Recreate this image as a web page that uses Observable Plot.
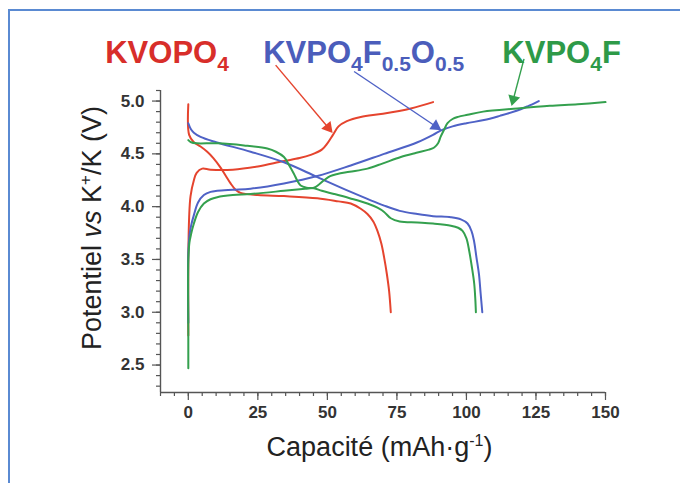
<!DOCTYPE html>
<html>
<head>
<meta charset="utf-8">
<script src="https://cdn.jsdelivr.net/npm/d3@7"></script>
<script src="https://cdn.jsdelivr.net/npm/@observablehq/plot@0.6"></script>
<style>
  body { margin: 0; background: #ffffff; }
  #wrap { position: relative; width: 680px; height: 483px; overflow: hidden; font-family: "Liberation Sans", Arial, sans-serif; }
  #wrap svg { position: absolute; left: 0; top: 0; }
  #frame { position: absolute; left: 8px; top: 9px; width: 700px; height: 500px; border-top: 2px solid #5a8ad2; border-left: 2px solid #5a8ad2; pointer-events: none; }
</style>
</head>
<body>
<div id="wrap"><div id="frame"></div></div>
<script>
// ---- Data (capacity in mAh/g, potential in V vs K+/K) ----
const materials = ["KVOPO4", "KVPO4F0.5O0.5", "KVPO4F"];
const curveColors = ["#e5442e", "#4f62c6", "#34a04e"];
const labelColors = ["#d82e2a", "#4b5dbb", "#2e9a48"];

// KVOPO4
const redChargeCap = [0, 0, 0.3, 0.8, 2, 3, 5, 8, 16, 25, 34, 40, 44, 48, 50, 52, 54, 57, 62, 70, 80, 88];
const redChargeV   = [2.78, 3.5, 3.9, 4.1, 4.25, 4.32, 4.36, 4.35, 4.35, 4.38, 4.43, 4.46, 4.49, 4.54, 4.60, 4.68, 4.76, 4.81, 4.85, 4.88, 4.93, 4.99];
const redDischCap  = [0, 0.3, 2, 4.4, 6.8, 9, 11.6, 13.5, 15.2, 17, 18.8, 25, 34.4, 46.4, 54, 58.4, 62, 64.4, 66.5, 68, 69.4, 70.4, 71.4, 72.2, 72.8];
const redDischV    = [4.97, 4.68, 4.61, 4.57, 4.52, 4.46, 4.37, 4.29, 4.22, 4.16, 4.13, 4.11, 4.10, 4.08, 4.05, 4.03, 3.98, 3.93, 3.86, 3.77, 3.65, 3.52, 3.36, 3.2, 3.0];

// KVPO4F0.5O0.5
const blueChargeCap = [0, 0, 0.4, 1, 2, 3.5, 5.6, 8, 10.4, 16, 22.4, 34.4, 46.4, 58.4, 70.4, 82.4, 88, 90.7, 95, 100, 106.3, 112, 118.3, 122, 126];
const blueChargeV   = [2.9, 3.55, 3.72, 3.82, 3.92, 4.04, 4.11, 4.14, 4.15, 4.16, 4.17, 4.22, 4.29, 4.39, 4.50, 4.61, 4.68, 4.72, 4.76, 4.79, 4.82, 4.86, 4.91, 4.95, 5.0];
const blueDischCap  = [0, 1, 2, 4.4, 10, 22.4, 34.4, 46.4, 58.4, 70.4, 76, 82.4, 88, 94.4, 98, 100.4, 101.8, 102.7, 103.6, 104.5, 105.1, 105.7];
const blueDischV    = [4.79, 4.73, 4.70, 4.66, 4.61, 4.52, 4.42, 4.28, 4.14, 4.01, 3.96, 3.93, 3.91, 3.90, 3.88, 3.84, 3.77, 3.68, 3.52, 3.36, 3.18, 3.0];

// KVPO4F
const greenChargeCap = [0, 0, 0, 0.4, 1, 2, 3.5, 5.6, 8, 10.4, 16, 22.4, 34.4, 42, 45.2, 47, 48.8, 51, 53.6, 58, 64.4, 70, 76.4, 82, 86.5, 88.4, 89.8, 90.7, 92, 93.2, 95, 97, 100.4, 106, 118.3, 130, 140, 150];
const greenChargeV   = [2.47, 2.75, 3.5, 3.66, 3.74, 3.84, 3.95, 4.03, 4.07, 4.09, 4.11, 4.12, 4.15, 4.17, 4.18, 4.21, 4.25, 4.29, 4.31, 4.33, 4.36, 4.41, 4.47, 4.51, 4.54, 4.56, 4.60, 4.66, 4.73, 4.79, 4.83, 4.85, 4.87, 4.90, 4.93, 4.955, 4.97, 4.99];
const greenDischCap  = [0, 1, 3, 10.4, 20, 28.4, 31.5, 34.4, 36.3, 38, 39.3, 40.4, 42.5, 45.2, 48, 52.4, 58, 64.4, 68, 70.4, 72.8, 76, 82.4, 88, 94.4, 97, 98.6, 100, 101, 102, 102.8, 103.2, 103.4];
const greenDischV    = [4.63, 4.61, 4.60, 4.60, 4.58, 4.55, 4.52, 4.47, 4.39, 4.31, 4.24, 4.20, 4.18, 4.175, 4.15, 4.12, 4.08, 4.03, 3.99, 3.95, 3.89, 3.86, 3.85, 3.84, 3.82, 3.80, 3.77, 3.70, 3.58, 3.42, 3.27, 3.12, 3.0];

// Annotation arrows (data coordinates)
const arrowMaterial = ["KVOPO4", "KVPO4F0.5O0.5", "KVPO4F"];
const arrowCap1 = [31.4, 59.6, 120.7];
const arrowV1   = [5.34, 5.28, 5.40];
const arrowCap2 = [51.2, 90.1, 116.5];
const arrowV2   = [4.72, 4.74, 4.98];

// Label anchors (left baseline, data coordinates) and text parts [text, isSubscript]
const labelCap = [-29.7, 27.1, 113.1];
const labelV = [5.36, 5.36, 5.36];
const labelParts = [
  [["KVOPO", false], ["4", true]],
  [["KVPO", false], ["4", true], ["F", false], ["0.5", true], ["O", false], ["0.5", true]],
  [["KVPO", false], ["4", true], ["F", false]]
];

// Ticks
const xMajorTicks = [0, 25, 50, 75, 100, 125, 150];
const xMinorTicks = d3.range(-10, 151, 5);
const yMajorTicks = [2.5, 3.0, 3.5, 4.0, 4.5, 5.0];
const yMinorTicks = d3.range(23, 52).map(d => d / 10);

// ---- Layout ----
const W = 680, H = 483, mL = 160, mR = 75, mT = 90, mB = 91;
const xDomain = [-10, 150], yDomain = [2.24, 5.1];
const pxPerCap = (W - mL - mR) / (xDomain[1] - xDomain[0]);
const pxPerV = (H - mT - mB) / (yDomain[1] - yDomain[0]);

// ---- Build tables ----
function series(material, part, caps, vs) {
  return caps.map((c, i) => ({cap: c, v: vs[i], material, series: material + "-" + part}));
}
const curves = [
  ...series("KVOPO4", "charge", redChargeCap, redChargeV),
  ...series("KVOPO4", "discharge", redDischCap, redDischV),
  ...series("KVPO4F0.5O0.5", "charge", blueChargeCap, blueChargeV),
  ...series("KVPO4F0.5O0.5", "discharge", blueDischCap, blueDischV),
  ...series("KVPO4F", "charge", greenChargeCap, greenChargeV),
  ...series("KVPO4F", "discharge", greenDischCap, greenDischV)
];
const headBack = 4; // px the triangle centre sits behind the tip
const arrows = arrowMaterial.map((m, i) => {
  const dxp = (arrowCap2[i] - arrowCap1[i]) * pxPerCap;
  const dyp = -(arrowV2[i] - arrowV1[i]) * pxPerV;
  const len = Math.hypot(dxp, dyp);
  const ux = dxp / len, uy = dyp / len;
  return {
    material: m,
    x1: arrowCap1[i], y1: arrowV1[i], x2: arrowCap2[i], y2: arrowV2[i],
    hx: arrowCap2[i] - ux * headBack / pxPerCap,
    hy: arrowV2[i] + uy * headBack / pxPerV,
    angle: Math.atan2(dxp, -dyp) * 180 / Math.PI
  };
});

const axisColor = "#555555";
const tickTextColor = "#333333";
const fontFam = "'Liberation Sans', Arial, sans-serif";

const plot = Plot.plot({
  width: W,
  height: H,
  marginLeft: mL,
  marginRight: mR,
  marginTop: mT,
  marginBottom: mB,
  style: {fontFamily: fontFam, background: "transparent", overflow: "visible"},
  x: {domain: xDomain},
  y: {domain: yDomain},
  color: {domain: materials, range: curveColors},
  marks: [
    Plot.axisX({ticks: xMinorTicks, tickSize: 4, stroke: axisColor, strokeWidth: 1.2, fill: "none", label: null}),
    Plot.axisX({ticks: xMajorTicks, tickSize: 8, tickPadding: 5, stroke: axisColor, strokeWidth: 1.2, fill: tickTextColor,
      fontSize: 17, fontWeight: "bold", tickFormat: d3.format("d"), label: null}),
    Plot.axisY({ticks: yMinorTicks, tickSize: 4, stroke: axisColor, strokeWidth: 1.2, fill: "none", label: null}),
    Plot.axisY({ticks: yMajorTicks, tickSize: 8, tickPadding: 8, stroke: axisColor, strokeWidth: 1.2, fill: tickTextColor,
      fontSize: 17, fontWeight: "bold", tickFormat: d3.format(".1f"), label: null}),
    Plot.ruleX([xDomain[0]], {stroke: axisColor, strokeWidth: 1.4}),
    Plot.ruleY([yDomain[0]], {stroke: axisColor, strokeWidth: 1.4}),
    Plot.line(curves, {x: "cap", y: "v", z: "series", stroke: "material", strokeWidth: 2, curve: "catmull-rom"}),
    Plot.link(arrows, {x1: "x1", y1: "y1", x2: "hx", y2: "hy", stroke: "material", strokeWidth: 1.4}),
    Plot.dot(arrows, {x: "hx", y: "hy", symbol: "triangle", rotate: "angle", r: 4.5, fill: "material", stroke: "none"})
  ]
});

document.getElementById("wrap").insertBefore(plot, document.getElementById("frame"));

const svg = d3.select(plot);
const xs = plot.scale("x"), ys = plot.scale("y");

// Material labels with subscripts
labelParts.forEach((parts, i) => {
  const t = svg.append("text")
    .attr("x", xs.apply(labelCap[i]))
    .attr("y", ys.apply(labelV[i]))
    .attr("text-anchor", "start")
    .attr("fill", labelColors[i])
    .attr("font-size", 31)
    .attr("font-weight", "bold")
    .attr("font-family", fontFam);
  let shifted = false;
  parts.forEach(([txt, sub]) => {
    const ts = t.append("tspan").text(txt);
    if (sub) {
      ts.attr("font-size", 21);
      if (!shifted) { ts.attr("dy", 8); shifted = true; }
    } else {
      ts.attr("font-size", 31);
      if (shifted) { ts.attr("dy", -8); shifted = false; }
    }
  });
});

// Axis titles
const xr = xs.range;
const xt = svg.append("text")
  .attr("x", (xr[0] + xr[1]) / 2 - 3)
  .attr("y", 456)
  .attr("text-anchor", "middle")
  .attr("font-size", 27)
  .attr("fill", "#222")
  .attr("font-family", fontFam);
xt.append("tspan").text("Capacité (mAh·g");
xt.append("tspan").text("-1").attr("font-size", 16).attr("dy", -10);
xt.append("tspan").text(")").attr("dy", 10);

const yt = svg.append("text")
  .attr("transform", `translate(101, 228) rotate(-90)`)
  .attr("text-anchor", "middle")
  .attr("font-size", 27)
  .attr("fill", "#222")
  .attr("font-family", fontFam);
yt.append("tspan").text("Potentiel ");
yt.append("tspan").text("vs").attr("font-style", "italic");
yt.append("tspan").text(" K");
yt.append("tspan").text("+").attr("font-size", 17).attr("dy", -10);
yt.append("tspan").text("/K (V)").attr("dy", 10);
</script>
</body>
</html>
